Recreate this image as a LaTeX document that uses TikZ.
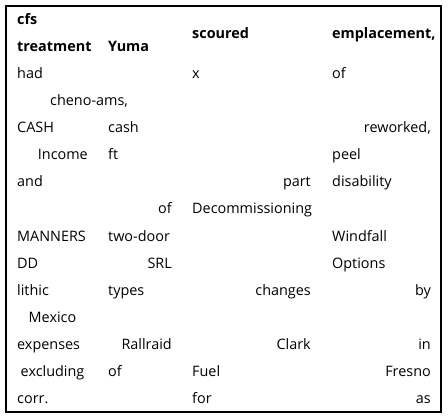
\documentclass[tikz,border=0pt]{standalone}
\usepackage{fontspec}
\setmainfont{Open Sans}
\begin{document}
\begin{tikzpicture}[x=1pt,y=-1pt,
    txt/.style={inner sep=0pt, yshift=-2pt, font=\fontsize{14.4}{17}\selectfont},
    lft/.style={txt, anchor=mid west},
    rgt/.style={txt, anchor=mid east},
    mdl/.style={txt, anchor=mid},
    hdr/.style={font=\fontsize{14.4}{17}\selectfont\bfseries}]

    \useasboundingbox (0,0) rectangle (448,419);
    \draw[line width=2pt] (6,6) rectangle (441,412);

    % header
    \node[lft, hdr] (cfs) at (17,20) {cfs};
    \node[lft, hdr] (treatment) at (17,47) {treatment};
    \node[lft, hdr] (yuma) at (108,47) {Yuma};
    \node[lft, hdr] (scoured) at (192,34) {scoured};
    \node[lft, hdr] (emplacement) at (332,34) {emplacement,};

    % body
    \node[lft] (had) at (17,74) {had};
    \node[lft] (x) at (192,74) {x};
    \node[lft] (of1) at (332,74) {of};

    \node[lft] (chenoams) at (50,101) {cheno-ams,};

    \node[lft] (CASH) at (17,128) {CASH};
    \node[lft] (cash) at (108,128) {cash};
    \node[rgt] (reworked) at (431,128) {reworked,};

    \node[rgt] (income) at (88,155) {Income};
    \node[lft] (ft) at (108,155) {ft};
    \node[lft] (peel) at (332,155) {peel};

    \node[lft] (and) at (17,182) {and};
    \node[rgt] (part) at (311,182) {part};
    \node[lft] (disability) at (332,182) {disability};

    \node[rgt] (of2) at (172,209) {of};
    \node[lft] (decomm) at (192,209) {Decommissioning};

    \node[lft] (manners) at (17,237) {MANNERS};
    \node[lft] (twodoor) at (108,237) {two-door};
    \node[lft] (windfall) at (332,237) {Windfall};

    \node[lft] (DD) at (17,264) {DD};
    \node[rgt] (SRL) at (172,264) {SRL};
    \node[lft] (options) at (332,264) {Options};

    \node[lft] (lithic) at (17,291) {lithic};
    \node[lft] (types) at (108,291) {types};
    \node[rgt] (changes) at (311,291) {changes};
    \node[rgt] (by) at (431,291) {by};

    \node[mdl] (mexico) at (52.5,318) {Mexico};

    \node[lft] (expenses) at (17,345) {expenses};
    \node[rgt] (rallraid) at (172,345) {Rallraid};
    \node[rgt] (clark) at (311,345) {Clark};
    \node[rgt] (in) at (431,345) {in};

    \node[mdl] (excluding) at (52.5,372) {excluding};
    \node[lft] (of3) at (108,372) {of};
    \node[lft] (fuel) at (192,372) {Fuel};
    \node[rgt] (fresno) at (431,372) {Fresno};

    \node[lft] (corr) at (17,399) {corr.};
    \node[lft] (for) at (192,399) {for};
    \node[rgt] (as) at (431,399) {as};

\end{tikzpicture}
\end{document}
